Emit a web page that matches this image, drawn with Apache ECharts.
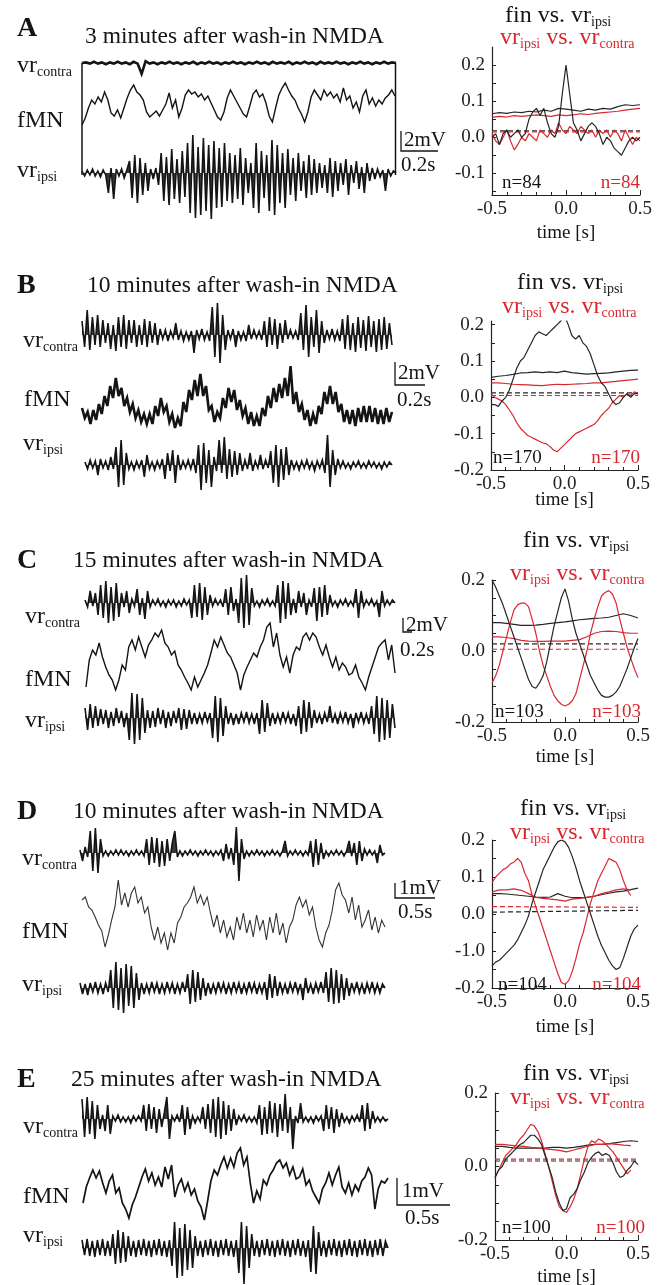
<!DOCTYPE html>
<html><head><meta charset="utf-8">
<script src="https://cdn.jsdelivr.net/npm/echarts@6/dist/echarts.min.js"></script>
<style>html,body{margin:0;padding:0;background:#fff}#c{width:669px;height:1285px}</style>
</head><body><div id="c"></div>
<script>
// ---------------- DATA ----------------
const titles = ['3 minutes after wash-in NMDA','10 minutes after wash-in NMDA','15 minutes after wash-in NMDA','10 minutes after wash-in NMDA','25 minutes after wash-in NMDA'];
const letters = ['A','B','C','D','E'];
const nValues = [84,170,103,104,100];
const scaleV = ['2mV','2mV','2mV','1mV','1mV'];
const scaleT = ['0.2s','0.2s','0.2s','0.5s','0.5s'];
const lag41 = [-0.5,-0.475,-0.45,-0.425,-0.4,-0.375,-0.35,-0.325,-0.3,-0.275,-0.25,-0.225,-0.2,-0.175,-0.15,-0.125,-0.1,-0.075,-0.05,-0.025,0,0.025,0.05,0.075,0.1,0.125,0.15,0.175,0.2,0.225,0.25,0.275,0.3,0.325,0.35,0.375,0.4,0.425,0.45,0.475,0.5];
const lag21 = [-0.5,-0.45,-0.4,-0.35,-0.3,-0.25,-0.2,-0.15,-0.1,-0.05,0,0.05,0.1,0.15,0.2,0.25,0.3,0.35,0.4,0.45,0.5];
const xTickLabels = [-0.5,0,0.5];

// y tick labels of the cross-correlation plots
const aYLabelVals = [-0.1,0,0.1,0.2], aYLabels = ['-0.1','0.0','0.1','0.2'];
const bYLabelVals = [-0.2,-0.1,0,0.1,0.2], bYLabels = ['-0.2','-0.1','0.0','0.1','0.2'];
const cYLabelVals = [-0.2,0,0.2], cYLabels = ['-0.2','0.0','0.2'];
const dYLabelVals = [-0.2,-0.1,0,0.1,0.2], dYLabels = ['-0.2','-1.0','0.0','0.1','0.2'];
const eYLabelVals = [-0.2,0,0.2], eYLabels = ['-0.2','0.0','0.2'];
const aYTicks = [-0.15,-0.1,-0.05,0,0.05,0.1,0.15,0.2];
const fullYTicks = [-0.2,-0.15,-0.1,-0.05,0,0.05,0.1,0.15,0.2];

// ---- panel A traces ----
const aContra = [0,1,-1,2,-1,1,-2,1,-1,2,-1,1,-2,2,-1,-18,3,-1,1,-2,1,-1,2,-1,1,-2,1,-1,2,-2,1,-1,2,-1,1,-2,1,-1,2,-1,1,-2,1,-1,2,-1,1,-2,2,-1,1,-1,2,-2,1,-1,2,-1,1,-2,2,-1,1,-1,2,-1,1,-2,1,-1,2,-1,1,-2,1,-1,2,-1,1,0];
const aFmn = [5,12,22,30,26,33,28,38,30,17,14,20,12,22,32,40,45,38,35,30,18,13,16,19,14,20,26,37,22,30,13,22,35,40,36,38,33,36,30,34,27,20,13,10,18,32,40,34,28,22,16,13,24,36,40,33,36,27,14,8,22,35,42,47,40,34,30,22,16,8,18,33,40,35,30,40,34,38,32,36,28,42,30,34,22,28,18,34,40,26,32,24,30,26,32,35,40,34];
const aIpsi = [2,-3,3,-2,4,-3,2,-4,3,-2,-20,5,-26,4,-3,4,-5,3,12,-25,18,-30,15,-22,10,-18,4,-6,5,-12,20,-28,16,-32,24,-26,14,-30,22,-24,30,-40,38,-45,26,-42,35,-38,28,-46,32,-35,25,-34,30,-28,20,-30,18,-26,25,-32,15,-20,10,-35,30,-40,22,-25,18,-38,33,-42,28,-30,20,-35,24,-22,15,-28,20,-18,12,-25,18,-22,14,-20,10,-15,8,-20,15,-24,12,-18,10,-12,14,-22,8,-10,12,-16,6,-20,10,-8,5,-6,4,-4,3,-18,4,-3,2,0];
// ---- panel B traces ----
const bContra = [14,-12,25,-15,18,-10,20,-12,15,-8,12,-14,10,-16,18,-12,20,-14,15,-8,15,-12,10,-10,16,-12,14,-8,12,-10,6,-4,5,-6,4,-3,12,-5,4,-6,3,-5,4,-18,5,-4,6,-5,3,-6,28,-22,32,-28,20,-15,5,-4,6,-12,4,-5,3,-6,10,-4,5,-3,4,-5,14,-12,18,-10,16,-14,12,-8,15,-4,5,-3,4,-5,22,-15,30,-22,18,-12,25,-18,14,-8,5,-4,6,-5,4,-6,16,-14,20,-15,12,-17,18,-13,15,-16,19,-12,14,-17,16,-15,18,-14,12,-10];
const bFmn = [28,18,24,12,26,16,32,22,40,30,50,38,58,40,48,30,38,24,32,18,26,14,22,12,22,12,30,20,38,24,30,14,22,8,18,10,34,24,46,36,56,40,62,40,50,26,30,14,24,18,38,28,48,34,46,26,36,20,28,12,24,10,20,10,28,20,40,28,48,34,52,38,58,40,70,32,44,24,32,16,26,10,22,12,30,22,44,32,50,32,44,24,32,14,26,12,26,10,28,14,30,14,30,14,28,12,26,12,28,14,24];
const bIpsi = [3,-4,5,-3,4,-10,6,-3,4,-5,8,-4,18,-22,25,-20,12,-4,3,-5,4,-3,5,-12,10,-4,3,-5,4,-3,6,-14,12,-6,15,-18,10,-5,4,-3,5,-4,6,-8,20,-25,22,-18,15,-22,8,-6,25,-8,28,-14,16,-12,14,-10,12,-6,5,-4,12,-6,4,-3,10,-4,5,-3,14,-18,20,-22,16,-15,18,-10,5,-4,3,-5,4,-3,5,-4,3,-6,4,-3,5,-8,30,-22,15,-10,6,-3,4,-3,2,-4,3,-2,4,-3,2,-3,4,-2,3,-3,2,-4,3,-2,3,0];
// ---- panel C traces ----
const cContra = [3,-4,12,-3,10,-12,18,-15,22,-20,16,-18,20,-14,10,-4,12,-10,4,-3,14,-12,5,-16,12,-4,3,-2,4,-3,2,-4,3,-2,3,-4,2,-3,4,-2,3,-15,18,-14,20,-17,16,-12,8,-3,4,-2,3,-4,14,-12,16,-8,4,-20,25,-25,28,-22,15,-3,2,-4,3,-2,4,-3,2,-3,18,-20,22,-16,20,-12,4,-10,12,-4,10,-12,3,-4,15,-18,16,-14,18,-12,8,-3,2,-4,3,-2,4,-3,2,-3,14,-15,12,-4,3,-2,4,-3,2,-14,12,-3,3,-2,3,0];
const cFmn = [8,35,45,40,52,38,28,20,15,5,15,30,25,48,55,45,58,48,38,50,55,62,58,65,52,48,40,44,30,25,18,12,5,18,8,15,22,30,42,55,48,58,50,42,38,30,22,5,20,28,35,42,38,48,55,68,72,48,62,40,28,38,22,40,48,45,58,62,55,62,58,48,40,50,38,28,38,25,32,28,20,22,30,18,12,5,18,28,38,48,52,55,35,50,22];
const cIpsi = [10,-12,14,-10,12,-8,9,-6,8,-10,6,-8,10,-5,7,-9,5,-22,25,-26,24,-22,20,-15,8,-10,7,-9,10,-6,8,-10,6,-8,7,-5,10,-12,9,-11,8,-6,5,-6,4,-5,6,-4,5,-20,22,-24,20,-18,12,-6,5,-7,4,-6,5,-4,6,-5,4,-6,5,-16,18,-14,15,-8,5,-6,4,-5,6,-4,5,-6,4,-8,12,-16,18,-14,16,-10,8,-5,4,-6,5,-4,12,-5,4,-6,5,-4,6,-5,4,-10,5,-4,6,-5,4,-6,12,-16,22,-24,20,-22,18,-20,14,-10];
// ---- panel D traces ----
const dContra = [3,-8,6,-4,22,-18,25,-20,14,-3,2,-3,2,-2,3,-2,3,-2,2,-3,2,-2,3,-2,2,-3,14,-12,16,-10,15,-14,12,-13,14,-8,10,22,-4,2,-3,2,-2,3,-2,2,-3,2,-2,3,-2,2,-3,2,-2,3,-8,9,-6,5,-12,26,-28,14,-6,2,-3,2,-2,3,-2,2,-3,2,-2,3,-2,2,-3,2,12,-3,2,-2,3,-2,2,-3,2,-2,12,-14,14,-12,10,-6,2,-3,2,-2,3,-2,2,-3,2,12,-3,10,-12,12,-8,4,-2,3,-2,2,-10,8,-2,0];
const dFmn = [55,58,48,45,38,30,24,8,20,35,48,75,50,62,48,62,68,52,58,42,48,28,15,28,12,22,5,22,12,32,38,48,52,58,68,52,60,50,58,42,28,40,22,35,18,28,15,38,25,42,22,35,18,40,25,35,15,38,22,42,20,32,12,28,35,50,58,48,55,40,48,28,15,8,22,30,45,65,72,60,55,42,58,35,50,28,35,45,25,38,22,35,28];
const dIpsi = [5,-6,4,-7,5,-4,6,-5,4,-6,5,-4,18,-20,26,-22,20,-25,24,-18,22,-20,15,-12,5,-6,4,-5,6,-4,5,-6,4,-5,6,-4,5,-6,4,-5,6,-4,14,-16,18,-14,16,-12,10,-8,5,-6,4,-5,6,-4,5,-6,4,-5,6,-4,5,-6,4,-5,6,-4,5,-6,4,-5,6,-12,14,-10,12,-8,6,-5,4,-6,5,-4,6,-5,4,-12,10,-5,4,-6,5,-4,6,-5,16,-14,20,-16,18,-15,14,-12,10,-8,5,-4,6,-5,4,-6,5,-4,6,-5,4,-5,4,0];
// ---- panel E traces ----
const eContra = [20,-18,22,-15,18,-20,14,-10,4,-12,14,-15,3,-2,4,-3,2,-3,2,-4,3,-2,3,-2,14,-12,15,-10,12,-14,10,-8,6,22,-20,3,-2,4,-3,14,-16,12,-10,3,-4,2,-3,12,-10,15,-14,20,-18,22,-20,18,-16,14,-12,10,-6,3,-2,4,-3,2,-3,2,-4,14,-16,12,-15,18,-14,16,-18,15,-12,25,-14,12,-30,3,-4,16,-3,2,-3,2,-4,3,-2,3,-12,14,-10,12,-14,10,-8,6,-3,2,-4,3,-2,4,-3,14,-12,16,-10,8,-3,2,-3,2,-2,0];
const eFmn = [20,36,45,53,45,52,40,30,42,48,30,35,20,14,5,18,26,36,46,54,42,50,38,46,36,56,44,58,26,38,44,32,40,28,34,22,16,3,22,42,53,48,58,66,55,65,56,70,75,58,66,40,20,32,24,43,38,48,53,60,63,55,60,48,56,44,46,54,38,43,32,26,20,34,40,50,38,48,56,36,30,40,28,38,32,42,46,55,48,14,34,42,40,45];
const eIpsi = [8,-7,9,-8,7,-9,8,-7,9,-8,7,-8,14,-16,18,-15,16,-14,12,-8,7,-9,8,-7,9,-8,7,-9,8,-7,9,-8,7,-9,8,-18,26,-30,20,-28,24,-22,18,-20,12,-8,7,-9,8,-7,9,-8,7,-9,8,-7,9,-8,7,-9,8,-25,26,-36,22,-20,14,-8,7,-9,8,-7,9,-8,7,-9,8,-7,9,-8,7,-9,8,-7,9,-8,7,-9,8,-24,22,-26,16,-8,7,-9,8,-7,9,-8,7,-9,8,-7,9,-8,7,-9,8,-7,9,-8,7,-9,8,-7,9,-8,7,0];

// ---- cross-correlations (fin vs vr_ipsi = black, vr_ipsi vs vr_contra = red) ----
const aFinCorr = [0,0.01,-0.02,0.01,0.02,0,0.01,0.02,0,0.01,0.05,0.07,0.08,0.06,0.08,0.04,0.01,0,0.03,0.12,0.2,0.12,0.04,0.02,-0.01,0.01,0.03,0.04,0.03,0.01,-0.02,0,-0.01,-0.03,-0.04,-0.05,-0.03,-0.01,0,-0.01,0];
const aVrCorr = [0.01,-0.01,-0.02,0,0.02,-0.01,-0.035,-0.02,0,-0.01,0.01,0,-0.01,0.02,0.01,0,0.02,0.01,0.04,0.02,0.01,0.03,0.02,0.01,0.03,0.02,0.01,0.02,0,0.02,0.01,0.02,0,0.02,0.01,-0.01,0.02,0,-0.02,0,-0.01];
const aFinBand = [0.065,0.068,0.066,0.07,0.068,0.072,0.07,0.075,0.072,0.08,0.078,0.075,0.072,0.078,0.075,0.08,0.078,0.085,0.09,0.088,0.09];
const aVrBand = [0.055,0.058,0.056,0.06,0.058,0.06,0.062,0.06,0.058,0.062,0.06,0.062,0.065,0.063,0.066,0.068,0.07,0.072,0.075,0.078,0.08];
const aFinDash = [0.018,0.018], aVrDash = [0.015,0.015];

const bFinCorr = [-0.02,-0.02,-0.025,-0.01,0,0.02,0.05,0.08,0.1,0.11,0.13,0.15,0.17,0.18,0.175,0.17,0.18,0.19,0.2,0.21,0.225,0.2,0.17,0.16,0.17,0.15,0.14,0.12,0.09,0.06,0.04,0.03,0.01,-0.01,-0.02,-0.015,0,0.01,0,0.01,0.01];
const bVrCorr = [0.01,0,-0.005,-0.01,-0.02,-0.035,-0.05,-0.07,-0.085,-0.095,-0.105,-0.11,-0.115,-0.12,-0.125,-0.128,-0.135,-0.145,-0.15,-0.14,-0.13,-0.12,-0.11,-0.1,-0.095,-0.09,-0.085,-0.08,-0.075,-0.065,-0.05,-0.04,-0.03,-0.015,-0.005,0.005,0,0.01,0.005,0.015,0.01];
const bFinBand = [0.055,0.058,0.06,0.063,0.067,0.068,0.07,0.068,0.07,0.068,0.072,0.068,0.066,0.064,0.065,0.066,0.067,0.07,0.072,0.074,0.075];
const bVrBand = [0.04,0.04,0.038,0.036,0.035,0.034,0.033,0.032,0.034,0.036,0.035,0.036,0.037,0.038,0.04,0.04,0.042,0.044,0.046,0.048,0.05];
const bFinDash = [0.012,0.012], bVrDash = [0.005,0.005];

const cFinCorr = [0.2,0.18,0.155,0.13,0.1,0.07,0.04,0.01,-0.02,-0.05,-0.08,-0.1,-0.105,-0.09,-0.07,-0.03,0.02,0.07,0.11,0.15,0.175,0.14,0.09,0.05,0.02,-0.01,-0.04,-0.07,-0.09,-0.11,-0.125,-0.13,-0.13,-0.125,-0.115,-0.1,-0.075,-0.05,-0.02,0.01,0.035];
const cVrCorr = [-0.09,-0.07,-0.04,0,0.04,0.08,0.115,0.13,0.135,0.135,0.125,0.09,0.05,0,-0.04,-0.07,-0.1,-0.125,-0.14,-0.15,-0.155,-0.15,-0.14,-0.12,-0.08,-0.04,0,0.05,0.09,0.125,0.155,0.165,0.17,0.16,0.135,0.09,0.05,0.01,-0.02,-0.05,-0.075];
const cFinBand = [0.08,0.08,0.078,0.075,0.072,0.072,0.073,0.075,0.078,0.08,0.082,0.085,0.088,0.09,0.092,0.093,0.095,0.1,0.105,0.1,0.093];
const cVrBand = [0.04,0.04,0.038,0.035,0.03,0.028,0.027,0.027,0.028,0.028,0.028,0.03,0.032,0.04,0.05,0.055,0.056,0.055,0.052,0.05,0.05];
const cFinDash = [0.02,0.02], cVrDash = [0.005,0.005];

const dFinCorr = [-0.14,-0.13,-0.125,-0.115,-0.105,-0.095,-0.085,-0.07,-0.05,-0.03,-0.005,0.03,0.06,0.09,0.12,0.14,0.16,0.18,0.195,0.2,0.195,0.18,0.155,0.125,0.09,0.06,0.03,0,-0.03,-0.06,-0.085,-0.105,-0.125,-0.14,-0.15,-0.145,-0.12,-0.09,-0.06,-0.04,-0.03];
const dVrCorr = [0.085,0.1,0.11,0.12,0.125,0.135,0.14,0.15,0.14,0.11,0.09,0.05,0.02,-0.01,-0.04,-0.07,-0.1,-0.13,-0.16,-0.185,-0.19,-0.18,-0.155,-0.12,-0.08,-0.05,-0.01,0.03,0.06,0.09,0.11,0.13,0.15,0.145,0.14,0.12,0.09,0.065,0.05,null,null];
const dFinBand = [0.055,0.055,0.054,0.052,0.05,0.048,0.046,0.045,0.046,0.055,0.048,0.044,0.044,0.045,0.048,0.052,0.056,0.06,0.062,0.066,0.07];
const dVrBand = [0.06,0.065,0.065,0.068,0.064,0.055,0.045,0.042,0.04,0.038,0.035,0.04,0.042,0.045,0.048,0.055,0.06,0.065,0.068,0.065,null];
const dFinDash = [0.005,0.01], dVrDash = [0.02,0.018];

const eFinCorr = [-0.03,-0.01,0,0.02,0.03,0.04,0.05,0.06,0.065,0.075,0.085,0.085,0.075,0.06,0.03,0,-0.03,-0.07,-0.1,-0.12,-0.115,-0.085,-0.075,-0.06,-0.035,-0.015,0.01,0.025,0.035,0.04,0.03,0.035,0.03,0.01,-0.015,-0.03,-0.025,-0.01,0,0.015,0.005];
const eVrCorr = [-0.03,-0.01,0.01,0.03,0.04,0.05,0.06,0.075,0.085,0.1,0.115,0.11,0.095,0.07,0.035,0,-0.04,-0.08,-0.11,-0.12,-0.125,-0.11,-0.09,-0.06,-0.02,0.02,0.055,0.07,0.065,0.075,0.07,0.06,0.05,0.04,0.025,0.01,-0.005,-0.02,-0.01,null,null];
const eFinBand = [0.055,0.055,0.052,0.05,0.05,0.05,0.05,0.05,0.052,0.052,0.05,0.052,0.055,0.058,0.06,0.06,0.062,0.065,0.068,0.07,0.068];
const eVrBand = [0.06,0.06,0.058,0.056,0.055,0.052,0.05,0.048,0.046,0.044,0.04,0.045,0.05,0.055,0.06,0.06,0.062,0.06,0.058,0.057,null];
const eFinDash = [0.015,0.015], eVrDash = [0.02,0.02];

// ---------------- LAYOUT (pixels) ----------------
const FONT = "'Liberation Serif','Times New Roman',Times,serif";
const RED = '#d8282f', INK = '#141414', GREY = '#262626';

const layout = [
 {letter:[17,29], title:[85,37], cL:[17,66], fL:[17,121], iL:[17,171],
  cBox:[82,48,314,30], cY:[-25,25], fBox:[82,82,313,48], fY:[0,48], iBox:[82,125,314,96], iY:[-48,48],
  corr:{left:492,top:47,width:148,height:148,min:-0.16,max:0.25},
  finT:[505,16], vrT:[500,38], nY:183, nBX:502, nRX:640, timeY:233,
  bar:[[401,131],[401,151],[438,151]], vT:[404,140], tT:[401,165], box:true, cw:2.6, fw:1.4},
 {letter:[17,286], title:[87,286], cL:[23,341], fL:[24,400], iL:[23,444],
  cBox:[82,303,310,64], cY:[-32,32], fBox:[82,358,310,78], fY:[0,78], iBox:[85,433,307,64], iY:[-32,32],
  corr:{left:491,top:321,width:147,height:149,min:-0.2,max:0.21},
  finT:[517,283], vrT:[502,307], nY:458, nBX:493, nRX:640, timeY:500,
  bar:[[395,362],[395,385],[425,385]], vT:[398,373], tT:[397,400], cw:1.6, fw:2.6},
 {letter:[17,561], title:[73,561], cL:[25,617], fL:[25,680], iL:[25,721],
  cBox:[85,573,310,60], cY:[-30,30], fBox:[86,617,309,78], fY:[0,78], iBox:[85,688,310,60], iY:[-30,30],
  corr:{left:492,top:580,width:146,height:142,min:-0.2,max:0.2},
  finT:[523,541], vrT:[510,574], nY:712, nBX:495, nRX:641, timeY:757,
  bar:[[403,618],[403,632],[412,632]], vT:[406,625], tT:[400,650], cw:1.6, fw:1.4},
 {letter:[17,812], title:[73,812], cL:[22,859], fL:[22,932], iL:[22,985],
  cBox:[80,823,305,60], cY:[-30,30], fBox:[82,877,303,78], fY:[0,78], iBox:[80,958,305,60], iY:[-30,30],
  corr:{left:492,top:840,width:146,height:148,min:-0.2,max:0.2},
  finT:[520,809], vrT:[510,833], nY:985, nBX:498, nRX:641, timeY:1027,
  bar:[[395,883],[395,898],[435,898]], vT:[399,888], tT:[398,912], cw:1.6, fw:1.1},
 {letter:[17,1080], title:[71,1080], cL:[23,1127], fL:[23,1197], iL:[23,1236],
  cBox:[82,1089,306,60], cY:[-30,30], fBox:[83,1145,305,78], fY:[0,78], iBox:[82,1210,306,76], iY:[-38,38],
  corr:{left:495,top:1093,width:143,height:147,min:-0.2,max:0.2},
  finT:[523,1074], vrT:[510,1098], nY:1228, nBX:502, nRX:645, timeY:1277,
  bar:[[397,1178],[397,1205],[450,1205]], vT:[402,1191], tT:[405,1218], cw:1.6, fw:1.7}
];

const panels = [
 {contra:aContra,fmn:aFmn,ipsi:aIpsi,finCorr:aFinCorr,vrCorr:aVrCorr,finBand:aFinBand,vrBand:aVrBand,finDash:aFinDash,vrDash:aVrDash,labVals:aYLabelVals,labs:aYLabels,ticks:aYTicks},
 {contra:bContra,fmn:bFmn,ipsi:bIpsi,finCorr:bFinCorr,vrCorr:bVrCorr,finBand:bFinBand,vrBand:bVrBand,finDash:bFinDash,vrDash:bVrDash,labVals:bYLabelVals,labs:bYLabels,ticks:fullYTicks},
 {contra:cContra,fmn:cFmn,ipsi:cIpsi,finCorr:cFinCorr,vrCorr:cVrCorr,finBand:cFinBand,vrBand:cVrBand,finDash:cFinDash,vrDash:cVrDash,labVals:cYLabelVals,labs:cYLabels,ticks:fullYTicks},
 {contra:dContra,fmn:dFmn,ipsi:dIpsi,finCorr:dFinCorr,vrCorr:dVrCorr,finBand:dFinBand,vrBand:dVrBand,finDash:dFinDash,vrDash:dVrDash,labVals:dYLabelVals,labs:dYLabels,ticks:fullYTicks},
 {contra:eContra,fmn:eFmn,ipsi:eIpsi,finCorr:eFinCorr,vrCorr:eVrCorr,finBand:eFinBand,vrBand:eVrBand,finDash:eFinDash,vrDash:eVrDash,labVals:eYLabelVals,labs:eYLabels,ticks:fullYTicks}
];

// ---------------- BUILD ----------------
const grids=[], xAxes=[], yAxes=[], series=[], graphics=[];
const mctx = document.createElement('canvas').getContext('2d');
function textWidth(t,size){ mctx.font = size+'px '+FONT; return mctx.measureText(t).width; }

function addTrace(data, box, yr, width, color, filled){
  const gi = grids.length;
  grids.push({left:box[0], top:box[1], width:box[2], height:box[3], outerBoundsMode:'none'});
  xAxes.push({type:'value', gridIndex:gi, min:0, max:data.length-1, show:false});
  yAxes.push({type:'value', gridIndex:gi, min:yr[0], max:yr[1], show:false});
  const s = {type:'line', xAxisIndex:gi, yAxisIndex:gi, data:data.map((v,i)=>[i,v]),
    symbol:'none', silent:true, lineStyle:{color:color||INK, width:width||1.2, join:'miter', miterLimit:4}};
  if (filled) s.areaStyle = {color:color||INK, opacity:0.85, origin:0};
  series.push(s);
}
function pairs(xs, ys){
  const out=[]; xs.forEach((x,i)=>{ if(ys[i]!==null && ys[i]!==undefined) out.push([x,ys[i]]); }); return out;
}
function addCorr(p, L){
  const c = L.corr, gi = grids.length;
  grids.push({left:c.left, top:c.top, width:c.width, height:c.height, outerBoundsMode:'none'});
  const axLine = {show:true, onZero:false, lineStyle:{color:'#222', width:1.2}};
  xAxes.push({type:'value', gridIndex:gi, min:-0.5, max:0.5, interval:0.5,
    axisLine:axLine, axisTick:{show:true, inside:true, length:5, lineStyle:{color:'#222',width:1}},
    minorTick:{show:true, splitNumber:5, length:3, lineStyle:{color:'#222',width:1}},
    splitLine:{show:false}, minorSplitLine:{show:false},
    axisLabel:{color:'#222', fontFamily:FONT, fontSize:19, margin:5,
      customValues:xTickLabels, formatter:v=>v.toFixed(1)}});
  yAxes.push({type:'value', gridIndex:gi, min:c.min, max:c.max,
    axisLine:axLine, splitLine:{show:false},
    axisTick:{show:true, inside:true, length:4, customValues:p.ticks, lineStyle:{color:'#222',width:1}},
    axisLabel:{color:'#222', fontFamily:FONT, fontSize:19, margin:7, customValues:p.labVals,
      formatter:v=>{const k=p.labVals.findIndex(x=>Math.abs(x-v)<1e-9); return k>=0?p.labs[k]:'';}}});
  const s = (data,color,dash)=>series.push({type:'line', xAxisIndex:gi, yAxisIndex:gi, data, symbol:'none', silent:true,
      lineStyle:{color, width:1.2, type: dash?[5,3]:'solid'}});
  s(pairs([-0.5,0.5], p.finDash), GREY, true);
  s(pairs([-0.5,0.5], p.vrDash), RED, true);
  s(pairs(lag21, p.finBand), GREY);
  s(pairs(lag21, p.vrBand), RED);
  s(pairs(lag41, p.vrCorr), RED);
  s(pairs(lag41, p.finCorr), GREY);
}
function plain(x,y,text,size,color,opt){
  opt = opt||{};
  graphics.push({type:'text', x, y, silent:true, z:20, style:{text, fill:color, fontSize:size, fontFamily:FONT,
    fontWeight:opt.bold?'bold':'normal', align:opt.align||'left', verticalAlign:'middle'}});
}
// text with subscripts: parts = [[text, isSub], ...]
function subText(x,y,parts,size,sub,color){
  let cx = x;
  parts.forEach(q=>{
    const sz = q[1]?sub:size;
    plain(cx, q[1]? y+6 : y, q[0], sz, color);
    cx += textWidth(q[0], sz);
  });
}

panels.forEach((p,k)=>{
  const L = layout[k];
  addTrace(p.contra, L.cBox, L.cY, L.cw, INK, k>0);
  addTrace(p.fmn, L.fBox, L.fY, L.fw, k===3?'#333':INK, false);
  addTrace(p.ipsi, L.iBox, L.iY, 1.6, INK, true);
  addCorr(p, L);
  plain(L.letter[0], L.letter[1], letters[k], 28, INK, {bold:true});
  plain(L.title[0], L.title[1], titles[k], 23.5, INK);
  subText(L.cL[0], L.cL[1], [['vr',0],['contra',1]], 24, 14, INK);
  plain(L.fL[0], L.fL[1], 'fMN', 24, INK);
  subText(L.iL[0], L.iL[1], [['vr',0],['ipsi',1]], 24, 14, INK);
  subText(L.finT[0], L.finT[1], [['fin vs. vr',0],['ipsi',1]], 24, 14, INK);
  subText(L.vrT[0], L.vrT[1], [['vr',0],['ipsi',1],[' vs. vr',0],['contra',1]], 24, 14, RED);
  plain(L.nBX, L.nY, 'n='+nValues[k], 19, INK);
  plain(L.nRX, L.nY, 'n='+nValues[k], 19, RED, {align:'right'});
  plain(L.corr.left + L.corr.width/2, L.timeY, 'time [s]', 19, INK, {align:'center'});
  graphics.push({type:'polyline', silent:true, z:20, shape:{points:L.bar}, style:{stroke:INK, lineWidth:1.3, fill:null}});
  plain(L.vT[0], L.vT[1], scaleV[k], 21, INK);
  plain(L.tT[0], L.tT[1], scaleT[k], 21, INK);
  if (L.box){
    graphics.push({type:'line', silent:true, z:20, shape:{x1:82,y1:63,x2:82,y2:175}, style:{stroke:INK, lineWidth:1.5}});
    graphics.push({type:'line', silent:true, z:20, shape:{x1:395.5,y1:63,x2:395.5,y2:175}, style:{stroke:INK, lineWidth:1.5}});
  }
});

const chart = echarts.init(document.getElementById('c'), null, {renderer:'canvas'});
chart.setOption({
  animation:false, backgroundColor:'#fff',
  grid:grids, xAxis:xAxes, yAxis:yAxes, series, graphic:graphics
});
</script></body></html>
